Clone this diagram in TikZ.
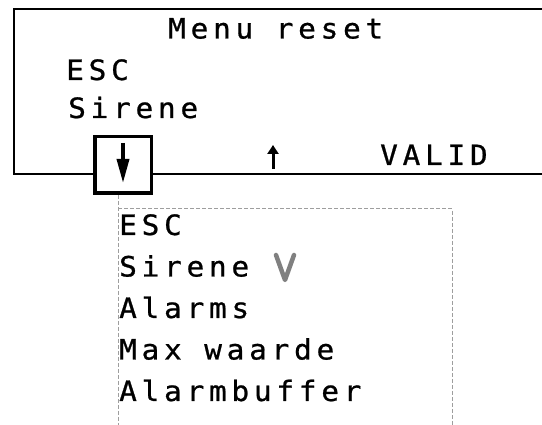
\documentclass[tikz,border=0pt]{standalone}
\usepackage{fontspec}
\usetikzlibrary{arrows.meta,positioning}
\newfontfamily\lcdfont[FakeStretch=1.05,LetterSpace=17,FakeBold=0.8]{DejaVu Sans Mono}
\definecolor{dashgray}{gray}{0.62}
\definecolor{markgray}{gray}{0.5}
\tikzset{
    lcd/.style={inner sep=0pt, anchor=base west, font=\lcdfont\fontsize{28}{28}\selectfont},
    listitem/.style={lcd, at={([yshift=-41.5pt]#1.base west)}}
}
\begin{document}
\begin{tikzpicture}[
                        x=1pt, y=-1pt,
                        >=latex
                    ]
                    \useasboundingbox (0,0) rectangle (542,425);
                    % Display frame
                    \draw [line width=2.5pt] (542,9) -- (14,9) -- (14,174) -- (542,174);
                    \node [lcd] (title) at (168,38.5) {Menu reset};
                    \node [lcd] (escmain) at (66,80) {ESC};
                    \node [lcd] (sirenemain) at (68,118) {Sirene};
                    \node [lcd] (valid) at (380,165) {VALID};

                    % Dropdown list
                    \draw [dashgray, line width=1pt, dash pattern=on 4pt off 2pt]
                        (118,195) -- (118,425)
                        (118,209) -- (452,209) -- (452,425);
                    \node [lcd] (esclist) at (119,235) {ESC};
                    \node [listitem=esclist] (sirenelist) {Sirene};
                    \node [listitem=sirenelist] (alarms) {Alarms};
                    \node [listitem=alarms] (maxwaarde) {Max waarde};
                    \node [listitem=maxwaarde] (alarmbuffer) {Alarmbuffer};
                    \coordinate (vmark) at (285,280);
                    \draw [markgray, line width=4.5pt, line cap=round, line join=round]
                        ([shift={(-9,-25)}]vmark) -- (vmark) -- ([shift={(9,-25)}]vmark);

                    % Keys
                    \node [draw, fill=white, line width=3.5pt, minimum size=56.5pt, inner sep=0pt] (downkey) at (123,165) {};
                    \coordinate (uptop) at (273,145);
                    \coordinate (upbottom) at (273,169);
                    \draw [line width=3.5pt, -{Triangle[length=24pt,width=12pt]}] ([yshift=-8pt]downkey.north) -- ([yshift=12pt]downkey.south);
                    \draw [line width=3pt, -{Triangle[length=9pt,width=11pt]}] (upbottom) -- (uptop);
                \end{tikzpicture}
\end{document}
